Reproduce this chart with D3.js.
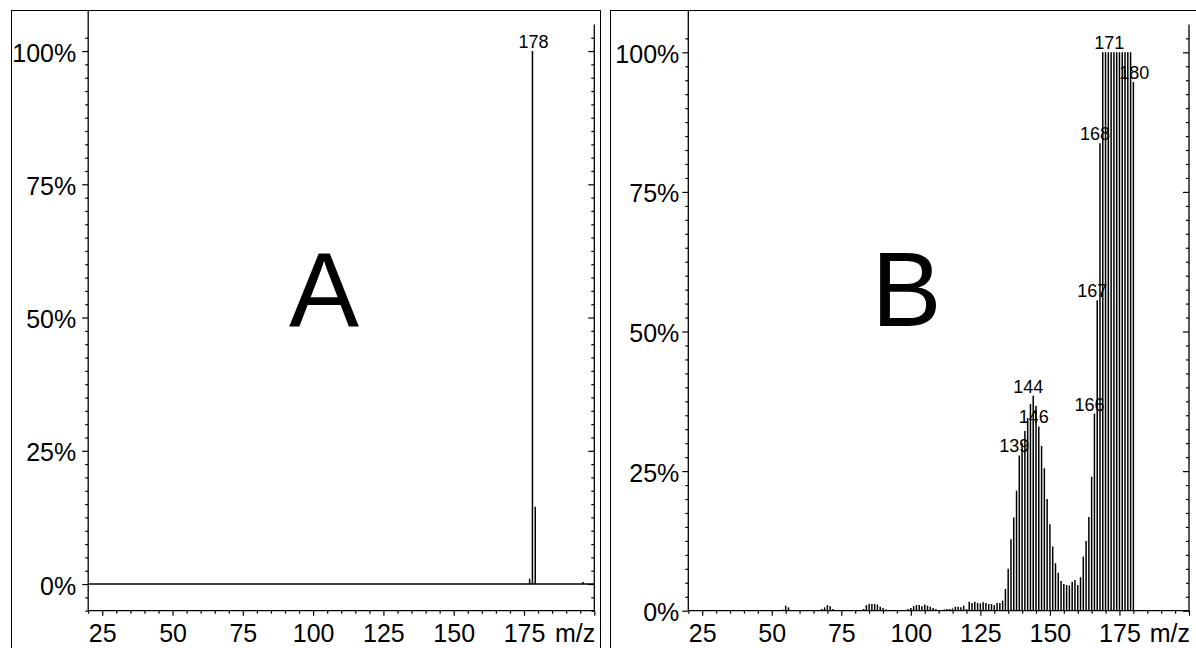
<!DOCTYPE html>
<html>
<head>
<meta charset="utf-8">
<script src="https://cdn.jsdelivr.net/npm/d3@7"></script>
<style>
  html, body { margin: 0; padding: 0; background: #fff; }
  svg { display: block; }
  text { font-family: "Liberation Sans", Arial, Helvetica, sans-serif; fill: #000; }
</style>
</head>
<body>
<svg id="chart" width="1196" height="648"></svg>
<script>
// ---------------- DATA ----------------
const panelNames = ["A", "B"];

// Panel A spectrum (m/z, relative intensity %)
const mzA = [177, 178, 179, 196];
const intensityA = [1.0, 100, 14.5, 0.4];
const labelsA = [178];

// Panel B spectrum
const mzB = [
  54, 55, 56,
  68, 69, 70, 71, 72,
  83, 84, 85, 86, 87, 88, 89, 90, 91,
  99, 100, 101, 102, 103, 104, 105, 106, 107, 108, 109, 110,
  111, 112, 113, 114, 115, 116, 117, 118, 119, 120,
  121, 122, 123, 124, 125, 126, 127, 128, 129, 130,
  131, 132, 133, 134, 135, 136, 137, 138, 139, 140,
  141, 142, 143, 144, 145, 146, 147, 148, 149, 150,
  151, 152, 153, 154, 155, 156, 157, 158, 159, 160,
  161, 162, 163, 164, 165, 166, 167, 168, 169, 170,
  171, 172, 173, 174, 175, 176, 177, 178, 179, 180
];
const intensityB = [
  0.2, 0.9, 0.6,
  0.3, 0.6, 1.0, 0.8, 0.3,
  0.3, 1.0, 1.2, 1.2, 1.2, 1.1, 0.7, 0.5, 0.2,
  0.3, 0.5, 0.8, 1.0, 1.0, 0.8, 1.1, 0.9, 0.7, 0.5, 0.3, 0.1,
  0.1, 0.2, 0.3, 0.3, 0.4, 0.7, 0.7, 0.6, 0.9, 0.3,
  1.6, 1.4, 1.6, 1.4, 1.3, 1.5, 1.4, 1.2, 1.2, 1.0,
  1.4, 1.4, 1.8, 3.9, 7.5, 12.8, 16.7, 21.5, 27.8, 30.0,
  32.2, 34.5, 37.0, 38.5, 36.7, 33.0, 29.5, 25.5, 20.0, 15.5,
  11.5, 8.5, 6.8, 5.3, 4.8, 4.6, 4.5, 5.2, 5.5, 4.6,
  6.0, 9.7, 12.5, 16.8, 24.0, 35.3, 55.6, 83.7, 100, 100,
  100, 100, 100, 100, 100, 100, 100, 100, 100, 94.7
];
const labelsB = [139, 144, 146, 166, 167, 168, 171, 180];

// Axis ticks
const xMajorTicks = [25, 50, 75, 100, 125, 150, 175];
const xAxisTitle = "m/z";
const yMajorTicks = [0, 25, 50, 75, 100];

// ---------------- LAYOUT ----------------
const svg = d3.select("#chart");
const FONT_TICK = 25;
const FONT_PEAK = 18;

const panels = [
  {
    name: panelNames[0], mz: mzA, inten: intensityA, labels: labelsA,
    frame: {x: 11.5, y: 10.5, w: 589, h: 700},
    xRange: [88.2, 594.3], yDomain: [-5, 105], yRange: [610.7, 24.4],
    labelPad: 6, baseline: true,
    letterPos: [324, 326],
    labelShift: m => 1
  },
  {
    name: panelNames[1], mz: mzB, inten: intensityB, labels: labelsB,
    frame: {x: 610.5, y: 10.5, w: 700, h: 700},
    xRange: [688.3, 1189], yDomain: [0, 105], yRange: [610.7, 24.4],
    labelPad: 3, baseline: false,
    letterPos: [906.5, 326],
    labelShift: m => (m < 170 ? -5 : 1)
  }
];

panels.forEach(p => {
  const g = svg.append("g");
  const x = d3.scaleLinear().domain([20, 200]).range(p.xRange);
  const y = d3.scaleLinear().domain(p.yDomain).range(p.yRange);
  const x0 = p.xRange[0], x1 = p.xRange[1];
  const yb = p.yRange[0];

  // frame
  g.append("rect")
    .attr("x", p.frame.x).attr("y", p.frame.y)
    .attr("width", p.frame.w).attr("height", p.frame.h)
    .attr("fill", "none").attr("stroke", "#000").attr("stroke-width", 1);

  // big panel letter
  g.append("text")
    .attr("x", p.letterPos[0]).attr("y", p.letterPos[1])
    .attr("text-anchor", "middle")
    .style("font-size", "105px")
    .text(p.name);

  const yMinor = d3.range(p.yDomain[0], 102.6, 2.5).filter(v => yMajorTicks.indexOf(v) < 0);
  const xMinor = d3.range(20, 201, 5).filter(v => xMajorTicks.indexOf(v) < 0 && v !== 200);

  // left axis
  const left = g.append("g").attr("transform", `translate(${x0},0)`);
  left.call(d3.axisLeft(y).tickValues(yMinor).tickSize(3).tickFormat(""));
  left.call(gg => gg.select(".domain").remove());
  const leftMaj = g.append("g").attr("transform", `translate(${x0},0)`);
  leftMaj.call(d3.axisLeft(y).tickValues(yMajorTicks).tickSize(6).tickPadding(p.labelPad)
    .tickFormat(d => d + "%"));
  leftMaj.call(gg => gg.select(".domain").remove());
  leftMaj.selectAll("text")
    .style("font-size", FONT_TICK + "px")
    .style("font-family", '"Liberation Sans", Arial, sans-serif')
    .attr("dy", "0.4em");
  g.append("line").attr("x1", x0).attr("x2", x0).attr("y1", 10).attr("y2", yb)
    .attr("stroke", "#000").attr("stroke-width", 1.3);

  // right axis (ticks inward)
  const right = g.append("g").attr("transform", `translate(${x1},0)`);
  right.call(d3.axisLeft(y).tickValues(yMinor).tickSize(3).tickFormat(""));
  right.call(gg => gg.select(".domain").remove());
  const rightMaj = g.append("g").attr("transform", `translate(${x1},0)`);
  rightMaj.call(d3.axisLeft(y).tickValues(yMajorTicks).tickSize(6).tickFormat(""));
  rightMaj.call(gg => gg.select(".domain").remove());
  g.append("line").attr("x1", x1).attr("x2", x1).attr("y1", p.yRange[1]).attr("y2", yb)
    .attr("stroke", "#000").attr("stroke-width", 1.3);

  // bottom axis
  const bottom = g.append("g").attr("transform", `translate(0,${yb})`);
  bottom.call(d3.axisBottom(x).tickValues(xMinor).tickSize(3).tickFormat(""));
  bottom.call(gg => gg.select(".domain").remove());
  const bottomMaj = g.append("g").attr("transform", `translate(0,${yb})`);
  bottomMaj.call(d3.axisBottom(x).tickValues(xMajorTicks.concat([200])).tickSize(5)
    .tickFormat(d => d === 200 ? "" : d));
  bottomMaj.call(gg => gg.select(".domain").remove());
  bottomMaj.selectAll("text")
    .style("font-size", FONT_TICK + "px")
    .style("font-family", '"Liberation Sans", Arial, sans-serif')
    .attr("y", 31.3).attr("dy", 0);
  g.append("text")
    .attr("x", x1 + 1).attr("y", yb + 31.3)
    .attr("text-anchor", "end")
    .style("font-size", FONT_TICK + "px")
    .text(xAxisTitle);
  g.append("line").attr("x1", x0).attr("x2", x1).attr("y1", yb).attr("y2", yb)
    .attr("stroke", "#000").attr("stroke-width", 1.3);

  g.selectAll(".tick line").attr("stroke", "#000").attr("stroke-width", 1.2);

  // baseline at 0%
  if (p.baseline) {
    g.append("line").attr("x1", x0).attr("x2", x1).attr("y1", y(0)).attr("y2", y(0))
      .attr("stroke", "#000").attr("stroke-width", 1.4);
  }

  // stick spectrum
  const data = p.mz.map((m, i) => ({m, v: p.inten[i]}));
  g.append("g").selectAll("line.peak").data(data).join("line")
    .attr("class", "peak")
    .attr("x1", d => x(d.m)).attr("x2", d => x(d.m))
    .attr("y1", y(0)).attr("y2", d => y(d.v))
    .attr("stroke", "#000").attr("stroke-width", 1.5);

  // peak labels
  const lab = data.filter(d => p.labels.indexOf(d.m) >= 0);
  g.append("g").selectAll("text").data(lab).join("text")
    .attr("x", d => x(d.m) + p.labelShift(d.m))
    .attr("y", d => y(d.v) - 3)
    .attr("text-anchor", "middle")
    .style("font-size", FONT_PEAK + "px")
    .text(d => d.m);
});
</script>
</body>
</html>
